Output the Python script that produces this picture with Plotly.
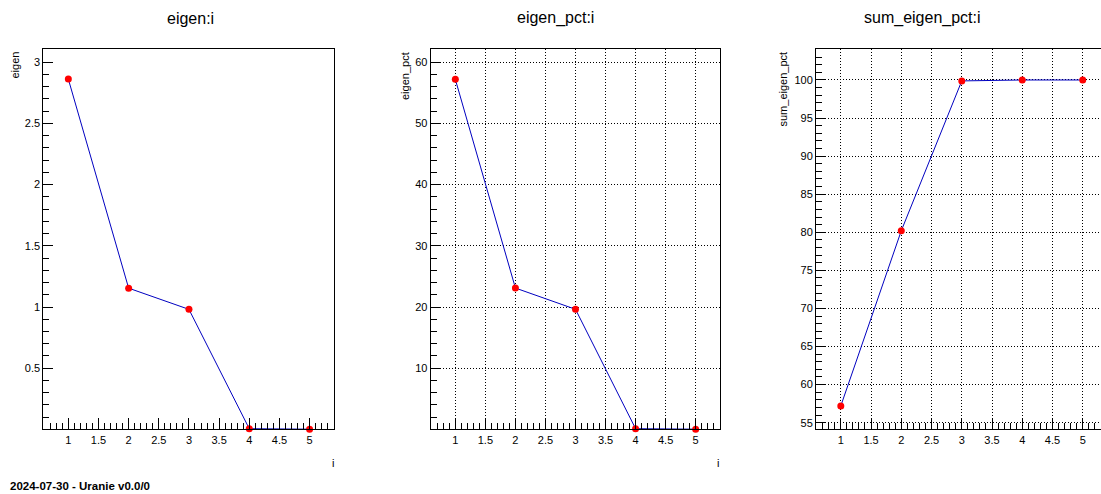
import plotly.graph_objects as go

W, H = 1101, 494

# ---- data ----
i_vals = [1, 2, 3, 4, 5]
eigen = [2.862, 1.154, 0.981, 0.006, 0.002]
eigen_pct = [57.2, 23.1, 19.63, 0.12, 0.04]
sum_eigen_pct = [57.2, 80.2, 99.88, 100.0, 100.0]

titles = ["eigen:i", "eigen_pct:i", "sum_eigen_pct:i"]
ytitles = ["eigen", "eigen_pct", "sum_eigen_pct"]
series = [eigen, eigen_pct, sum_eigen_pct]

FONT = "Liberation Sans, Arial, Helvetica, sans-serif"


def px_x(x):
    return x / W


def px_y(y):
    return 1 - y / H


# panel geometry (pixels)
frames = [(43.3, 334.0), (430.7, 720.0), (816.0, 1101.0)]
top, bottom = 49.0, 429.3
xranges = [[0.585, 5.405], [0.59, 5.405], [0.59, 5.302]]
yranges = [[0.001, 3.108], [0.02, 62.16], [54.13, 104.07]]
ydticks = [0.5, 10, 5]
yminor = [0.1, 2, 1]
grids = [False, True, True]

fig = go.Figure()

for k in range(3):
    xa = "x" if k == 0 else f"x{k+1}"
    ya = "y" if k == 0 else f"y{k+1}"
    fig.add_trace(go.Scatter(
        x=i_vals, y=series[k], mode="lines+markers",
        line=dict(color="#0000c0", width=1),
        marker=dict(color="#ff0000", size=7, symbol="circle"),
        cliponaxis=False, showlegend=False, xaxis=xa, yaxis=ya,
    ))
    xname = "xaxis" if k == 0 else f"xaxis{k+1}"
    yname = "yaxis" if k == 0 else f"yaxis{k+1}"
    gridstyle = dict(showgrid=grids[k], gridcolor="#000000", gridwidth=1, griddash="1px,2px")
    fig.layout[xname] = dict(
        domain=[px_x(frames[k][0]), px_x(frames[k][1])],
        range=xranges[k], anchor=ya,
        tickmode="linear", tick0=1, dtick=0.5,
        ticks="inside", ticklen=11, tickwidth=1, tickcolor="#000000",
        minor=dict(ticks="inside", ticklen=6, dtick=0.1, tick0=0, tickcolor="#000000", showgrid=False),
        showline=True, linecolor="#000000", linewidth=1, mirror=True,
        zeroline=False, tickfont=dict(family=FONT, size=11, color="#000000"),
        fixedrange=True, **gridstyle,
    )
    fig.layout[yname] = dict(
        domain=[px_y(bottom), px_y(top)],
        range=yranges[k], anchor=xa,
        tickmode="linear", tick0=0, dtick=ydticks[k],
        ticks="inside", ticklen=10, tickwidth=1, tickcolor="#000000",
        minor=dict(ticks="inside", ticklen=6, dtick=yminor[k], tick0=0, tickcolor="#000000", showgrid=False),
        showline=True, linecolor="#000000", linewidth=1, mirror=(k < 2),
        zeroline=False, tickfont=dict(family=FONT, size=11, color="#000000"),
        fixedrange=True, **gridstyle,
    )

annotations = []
# pad titles
title_x = [190, 555, 922]
for k in range(3):
    annotations.append(dict(
        text=titles[k], x=px_x(title_x[k]), y=px_y(18), xref="paper", yref="paper",
        xanchor="center", yanchor="middle", showarrow=False,
        font=dict(family=FONT, size=16, color="#000000"),
    ))
# y-axis titles (rotated, aligned at top)
ytitle_x = [15, 405, 783]
for k in range(3):
    annotations.append(dict(
        text=ytitles[k], x=px_x(ytitle_x[k]), y=px_y(50), xref="paper", yref="paper",
        xanchor="center", yanchor="top", textangle=-90, showarrow=False,
        font=dict(family=FONT, size=11, color="#000000"),
    ))
# x-axis titles
for xp in [333, 718]:
    annotations.append(dict(
        text="i", x=px_x(xp), y=px_y(463), xref="paper", yref="paper",
        xanchor="center", yanchor="middle", showarrow=False,
        font=dict(family=FONT, size=11, color="#000000"),
    ))
# footer
annotations.append(dict(
    text="<b>2024-07-30 - Uranie v0.0/0</b>", x=px_x(8), y=px_y(486), xref="paper", yref="paper",
    xanchor="left", yanchor="middle", showarrow=False,
    font=dict(family=FONT, size=11.5, color="#000000"),
))

fig.update_layout(
    width=W, height=H,
    margin=dict(l=0, r=0, t=0, b=0),
    paper_bgcolor="#ffffff", plot_bgcolor="#ffffff",
    annotations=annotations,
    font=dict(family=FONT, color="#000000"),
)

fig.write_html(
    "out.html",
    config={"displayModeBar": False},
    post_script="document.body.style.margin='0';document.body.style.padding='0';document.body.style.overflow='hidden';",
)
